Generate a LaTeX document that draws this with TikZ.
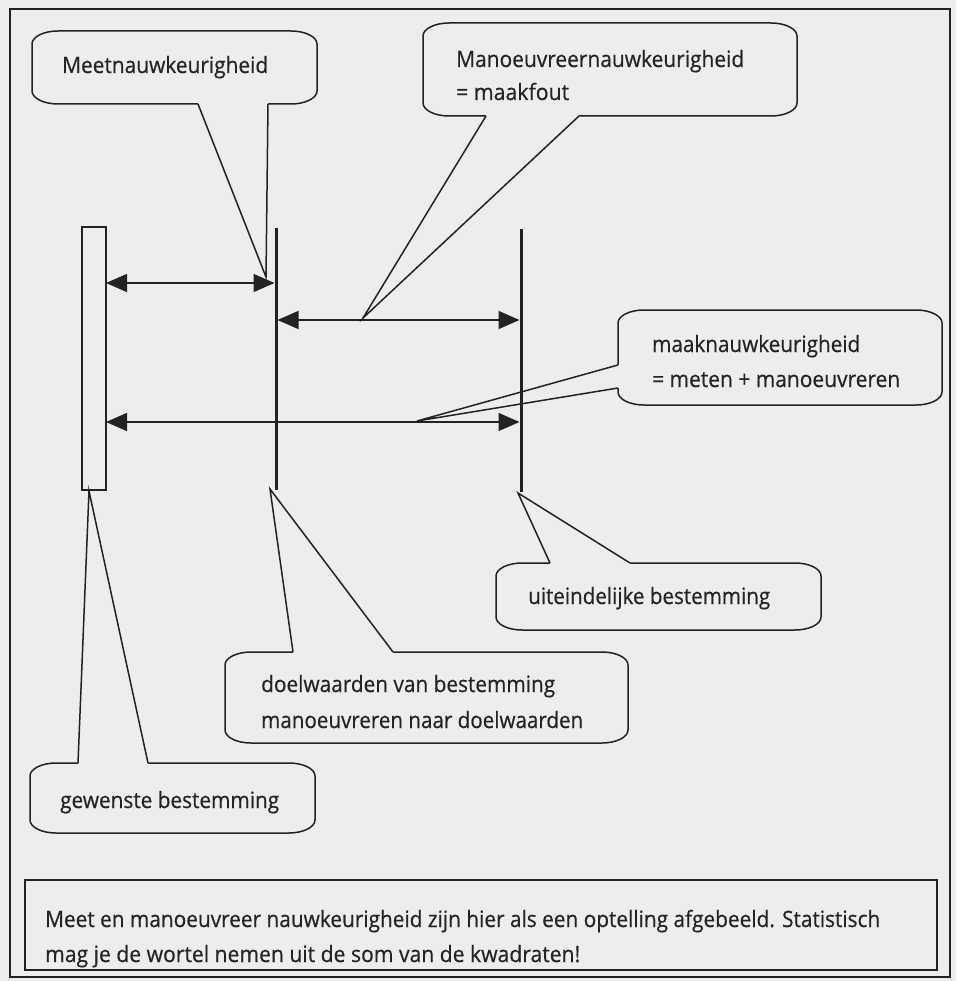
\documentclass[tikz,border=0pt]{standalone}
\usepackage{fontspec}
\setmainfont{Open Sans}
\newfontfamily\labelfont{Open Sans}[BoldFont={Open Sans},BoldFeatures={FakeBold=0.6}]
\usepackage{graphicx}
\usetikzlibrary{arrows.meta,calc,fit}
\definecolor{bg}{RGB}{237,237,237}
\definecolor{ink}{RGB}{34,34,34}
\definecolor{txtc}{RGB}{36,36,36}
\newcommand\crx{26}
\newcommand\cry{13}
\newcommand\tw[2]{\resizebox{#1pt}{\height}{#2}}
% elliptical-corner outline around a box node
\newcommand\cboxdraw[1]{%
  \draw[cline,fill=bg] ($(#1.north west)+(\crx,0)$) -- ($(#1.north east)+(-\crx,0)$)
    .. controls ($(#1.north east)+(-0.45*\crx,0)$) and ($(#1.north east)+(0,0.45*\cry)$) .. ($(#1.north east)+(0,\cry)$)
    -- ($(#1.south east)+(0,-\cry)$)
    .. controls ($(#1.south east)+(0,-0.45*\cry)$) and ($(#1.south east)+(-0.45*\crx,0)$) .. ($(#1.south east)+(-\crx,0)$)
    -- ($(#1.south west)+(\crx,0)$)
    .. controls ($(#1.south west)+(0.45*\crx,0)$) and ($(#1.south west)+(0,-0.45*\cry)$) .. ($(#1.south west)+(0,-\cry)$)
    -- ($(#1.north west)+(0,\cry)$)
    .. controls ($(#1.north west)+(0,0.45*\cry)$) and ($(#1.north west)+(0.45*\crx,0)$) .. cycle;}
% pointer of a callout: #1,#2 junctions on the edge, #3 tip, (#4,#5) inward offset
\newcommand\ctail[5]{%
  \fill[bg] ($(#1)+(#4,#5)$) -- (#1) -- (#3) -- (#2) -- ($(#2)+(#4,#5)$) -- cycle;
  \draw[cline] (#1) -- (#3) -- (#2);}
\begin{document}
\begin{tikzpicture}[x=1pt,y=-1pt,
  cline/.style={draw=ink,line width=1.5pt,line join=miter},
  cbase/.style={inner sep=0pt,outer sep=0pt,draw=none},
  txt/.style={text=txtc,font=\labelfont\bfseries\fontsize{22.5}{27}\selectfont,inner sep=0pt,anchor=base west},
  dimarrow/.style={draw=ink,line width=1.5pt,{Triangle[length=21pt,width=18pt]}-{Triangle[length=21pt,width=18pt]}},
  bar/.style={draw=ink,line width=1.5pt,inner sep=0pt,outer sep=0pt},
  thickline/.style={fill=ink,inner sep=0pt,outer sep=0pt}]
\useasboundingbox (0,0) rectangle (956,981);
\fill[bg] (0,0) rectangle (956,981);
\node[fit={(10,9) (950,977)},inner sep=0pt,draw=ink,line width=1.6pt] (frame) {};

% callout boxes
\node[cbase,fit={(32,31) (317,104)}] (b1) {};
\node[cbase,fit={(423,23) (797,116)}] (b2) {};
\node[cbase,fit={(618,310) (942,405)}] (b3) {};
\node[cbase,fit={(496,563) (821,630)}] (b4) {};
\node[cbase,fit={(225,652) (628,743)}] (b5) {};
\node[cbase,fit={(30,763) (315,833)}] (b6) {};
\foreach \b in {b1,b2,b3,b4,b5,b6}{\cboxdraw{\b}}

% pointers
\coordinate (p1a) at (198,0 |- b1.south); \coordinate (p1b) at (268,0 |- b1.south); \coordinate (tip1) at (266,277);
\coordinate (p2a) at (486,0 |- b2.south); \coordinate (p2b) at (579,0 |- b2.south); \coordinate (tip2) at (363,318);
\coordinate (p3a) at (b3.west |- 0,365); \coordinate (p3b) at (b3.west |- 0,388); \coordinate (tip3) at (417,421);
\coordinate (p4a) at (550,0 |- b4.north); \coordinate (p4b) at (630,0 |- b4.north); \coordinate (tip4) at (518,493);
\coordinate (p5a) at (293,0 |- b5.north); \coordinate (p5b) at (393,0 |- b5.north); \coordinate (tip5) at (270,489);
\coordinate (p6a) at (78,0 |- b6.north); \coordinate (p6b) at (148,0 |- b6.north); \coordinate (tip6) at (89,491);
\ctail{p1a}{p1b}{tip1}{0}{-3}
\ctail{p2a}{p2b}{tip2}{0}{-3}
\ctail{p3a}{p3b}{tip3}{3}{0}
\ctail{p4a}{p4b}{tip4}{0}{3}
\ctail{p5a}{p5b}{tip5}{0}{3}
\ctail{p6a}{p6b}{tip6}{0}{3}

% target bar and lines
\node[bar,fit={(82,227) (106,490)}] (gbar) {};
\node[thickline,fit={(274.5,228) (277.5,490)}] (mid) {};
\node[thickline,fit={(519.5,229) (522.5,492)}] (fin) {};

% dimension arrows
\coordinate (ya) at (0,283);
\coordinate (yb) at (0,320);
\coordinate (yc) at (0,422);
\draw[dimarrow] (gbar.east |- ya) -- (mid.west |- ya);
\draw[dimarrow] (mid.east |- yb) -- (fin.west |- yb);
\draw[dimarrow] (gbar.east |- yc) -- (fin.west |- yc);

% texts
\node[txt] (t1) at (62,73) {\tw{206}{Meetnauwkeurigheid}};
\node[txt] (t2a) at (456,67) {\tw{288}{Manoeuvreernauwkeurigheid}};
\node[txt] (t2b) at (456,100) {\tw{113}{= maakfout}};
\node[txt] (t3a) at (652,352) {\tw{208}{maaknauwkeurigheid}};
\node[txt] (t3b) at (652,387) {\tw{248}{= meten + manoeuvreren}};
\node[txt] (t4) at (528,604) {\tw{242}{uiteindelijke bestemming}};
\node[txt] (t5a) at (261,692) {\tw{294}{doelwaarden van bestemming}};
\node[txt] (t5b) at (261,728) {\tw{322}{manoeuvreren naar doelwaarden}};
\node[txt] (t6) at (60,808) {\tw{219}{gewenste bestemming}};

% note
\node[fit={(25,880) (937,970)},inner sep=0pt,draw=ink,line width=1.9pt] (note) {};
\node[txt] (n1) at (45,927) {\tw{835}{Meet en manoeuvreer nauwkeurigheid zijn hier als een optelling afgebeeld. Statistisch}};
\node[txt] (n2) at (45,962) {\tw{535}{mag je de wortel nemen uit de som van de kwadraten!}};
\end{tikzpicture}
\end{document}
